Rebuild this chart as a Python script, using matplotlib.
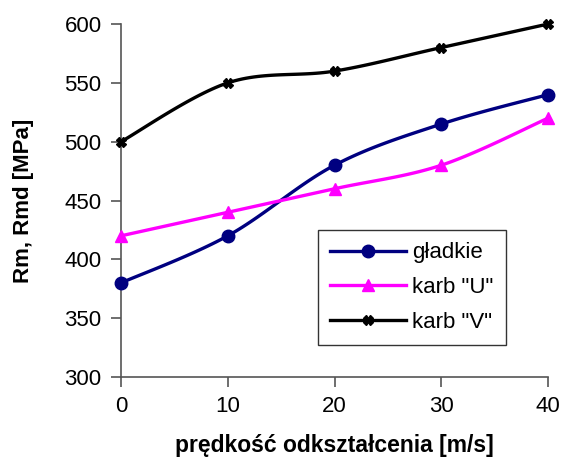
import numpy as np
import matplotlib
matplotlib.use("Agg")
import matplotlib.pyplot as plt

x = [0, 10, 20, 30, 40]
gladkie = [380, 420, 480, 515, 540]
karb_u = [420, 440, 460, 480, 520]
karb_v = [500, 550, 560, 580, 600]
labels = ['gładkie', 'karb "U"', 'karb "V"']

plt.rcParams['font.family'] = ['Liberation Sans', 'DejaVu Sans']


def smooth(xs, ys, n=30):
    xs = np.asarray(xs, float)
    ys = np.asarray(ys, float)
    px, py = [], []
    m = len(xs)
    for i in range(m - 1):
        x0, y0 = (xs[i - 1], ys[i - 1]) if i > 0 else (xs[i], ys[i])
        x1, y1 = xs[i], ys[i]
        x2, y2 = xs[i + 1], ys[i + 1]
        x3, y3 = (xs[i + 2], ys[i + 2]) if i + 2 < m else (xs[i + 1], ys[i + 1])
        c1x, c1y = x1 + (x2 - x0) / 6, y1 + (y2 - y0) / 6
        c2x, c2y = x2 - (x3 - x1) / 6, y2 - (y3 - y1) / 6
        t = np.linspace(0, 1, n)
        bx = (1 - t) ** 3 * x1 + 3 * (1 - t) ** 2 * t * c1x + 3 * (1 - t) * t ** 2 * c2x + t ** 3 * x2
        by = (1 - t) ** 3 * y1 + 3 * (1 - t) ** 2 * t * c1y + 3 * (1 - t) * t ** 2 * c2y + t ** 3 * y2
        px.extend(bx)
        py.extend(by)
    return px, py


fig = plt.figure(figsize=(5.62, 4.65), dpi=100)
ax = fig.add_axes([0.2153, 0.1892, 0.7598, 0.7591])

series = [
    (gladkie, '#000080', 'o', 9),
    (karb_u, '#FF00FF', '^', 9),
    (karb_v, '#000000', 'X', 6.5),
]
handles = []
for (ys, c, mk, ms), lab in zip(series, labels):
    sx, sy = smooth(x, ys)
    ax.plot(sx, sy, color=c, lw=2.4, zorder=2, clip_on=False)
    ax.plot(x, ys, ls='none', marker=mk, color=c, ms=ms, zorder=3, clip_on=False)
    h, = ax.plot([], [], color=c, lw=2.4, marker=mk, ms=ms)
    handles.append(h)

ax.set_xlim(0, 40)
ax.set_ylim(300, 600)
ax.set_xticks(x)
ax.set_yticks(np.arange(300, 601, 50))
for s in ['top', 'right']:
    ax.spines[s].set_visible(False)
for s in ['left', 'bottom']:
    ax.spines[s].set_color('#555555')
    ax.spines[s].set_linewidth(1.2)
ax.tick_params(axis='both', direction='out', length=7, width=1.2, color='#555555',
               labelsize=16, pad=7)
ax.set_xlabel('prędkość odkształcenia [m/s]', fontsize=16.5, fontweight='bold', labelpad=12)
ax.set_ylabel('Rm, Rmd [MPa]', fontsize=16, fontweight='bold', labelpad=22)

leg = ax.legend(handles, labels, loc='lower left', bbox_to_anchor=(0.461, 0.09),
                borderaxespad=0,
                fontsize=16, frameon=True, fancybox=False, edgecolor='#000000',
                handlelength=3.4, borderpad=0.55, labelspacing=0.62, handletextpad=0.3)
leg.get_frame().set_linewidth(1.0)

fig.savefig('out.png', dpi=100)
